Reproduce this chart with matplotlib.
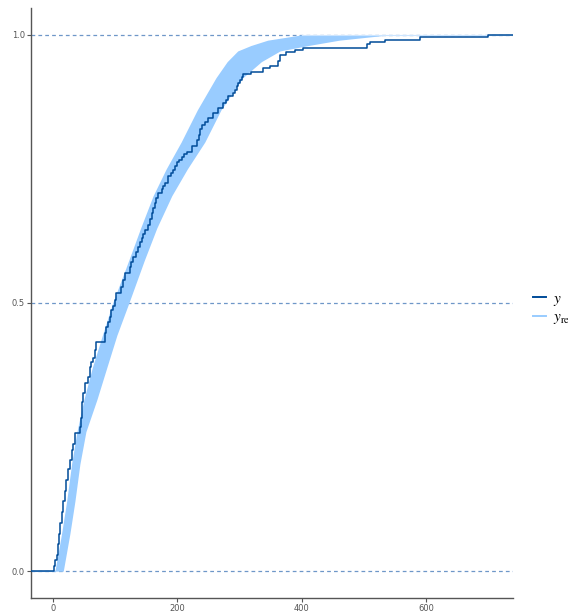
"""ECDF overlay: observed y vs replicated y_rep (matplotlib)."""
import matplotlib
matplotlib.use("Agg")
import matplotlib.pyplot as plt
import numpy as np

plt.rcParams["font.family"] = ["DejaVu Sans"]
plt.rcParams["mathtext.fontset"] = "stix"

# observed ECDF: jump locations and the ECDF value after each jump
obs_x = [1.5, 4, 6, 8, 10, 12, 14, 17, 19, 21, 24, 27, 30, 33, 35, 43, 45, 46,
         47.5, 48.7, 51, 57, 59, 62, 65, 67.5, 70, 83.5, 86, 89, 91.5, 94, 97,
         99.6, 102, 110, 113, 115.7, 123.7, 126, 129, 133, 137, 140, 142.5, 145,
         148, 153, 156, 158.5, 161, 164, 166, 169, 174.6, 177, 180, 185, 189,
         193, 196, 199, 203, 207, 211, 215, 223, 231, 234, 237, 239, 244, 249.5,
         257.5, 265.6, 273.6, 278, 281.6, 289.6, 293, 295, 298, 300, 303, 305.7,
         319, 338, 348.6, 362, 364.7, 375, 388.8, 402, 504, 509, 533, 590, 699]
obs_F = [0.01, 0.02, 0.03, 0.05, 0.07, 0.09, 0.11, 0.13, 0.15, 0.17, 0.19, 0.207,
         0.225, 0.237, 0.257, 0.269, 0.285, 0.30, 0.315, 0.332, 0.35, 0.362, 0.38,
         0.39, 0.397, 0.412, 0.427, 0.444, 0.456, 0.465, 0.474, 0.487, 0.495,
         0.506, 0.518, 0.53, 0.543, 0.556, 0.568, 0.577, 0.586, 0.595, 0.605,
         0.613, 0.621, 0.628, 0.636, 0.645, 0.656, 0.668, 0.677, 0.686, 0.695,
         0.705, 0.712, 0.718, 0.723, 0.736, 0.742, 0.748, 0.756, 0.762, 0.767,
         0.772, 0.778, 0.782, 0.792, 0.804, 0.814, 0.824, 0.832, 0.838, 0.845,
         0.854, 0.863, 0.873, 0.879, 0.885, 0.891, 0.898, 0.904, 0.91, 0.916,
         0.922, 0.927, 0.930, 0.938, 0.941, 0.952, 0.963, 0.968, 0.972, 0.976,
         0.983, 0.987, 0.991, 0.996, 1.0]

# envelope of the replicated ECDFs (left / right edge at each level)
rep_F = [0.0, 0.07, 0.13, 0.2, 0.26, 0.32, 0.38, 0.44, 0.5, 0.58, 0.64, 0.7,
         0.75, 0.8, 0.86, 0.92, 0.95, 0.97, 0.98, 0.99, 1.0]
rep_lo = [3.2, 13.9, 22, 30, 38.6, 49.8, 63.4, 79.5, 96, 122, 141, 161,
          182, 206, 232, 262, 280, 297, 318, 345, 400]
rep_hi = [16.6, 27.3, 35.3, 43.4, 53, 70.7, 86.7, 102.8, 122, 147, 167, 191,
          216, 244, 270, 305, 335, 365, 410, 460, 541]

xlim = (-35.2, 739.2)
dark = "#004c99"
light = "#99ccff"

fig = plt.figure(figsize=(5.68, 6.14), dpi=100)
ax = fig.add_axes([31 / 568, 1 - 598 / 614, 482 / 568, 590 / 614])

for h in (0.0, 0.5, 1.0):
    ax.axhline(h, color="#6e97c8", linewidth=0.9, linestyle=(0, (3, 2.5)), zorder=1)

ax.fill_betweenx(rep_F, rep_lo, rep_hi, color=light, linewidth=0, zorder=2)
ax.plot([rep_lo[0], xlim[0]], [0, 0], color=light, linewidth=0.8, zorder=2)
ax.plot([rep_lo[-1], xlim[1]], [1, 1], color="#cce5ff", linewidth=0.8, zorder=2)

xs = [xlim[0]] + obs_x + [xlim[1]]
fs = [0.0] + obs_F + [obs_F[-1]]
ax.plot(xs, fs, drawstyle="steps-post", color=dark, linewidth=1.1, zorder=3)

ax.set_xlim(*xlim)
ax.set_ylim(-0.05, 1.05)
ax.set_xticks([0, 200, 400, 600])
ax.set_yticks([0.0, 0.5, 1.0])
ax.set_yticklabels(["0.0", "0.5", "1.0"])
for side in ("top", "right"):
    ax.spines[side].set_visible(False)
for side in ("left", "bottom"):
    ax.spines[side].set_color("#555555")
    ax.spines[side].set_linewidth(1.0)
ax.tick_params(labelsize=6, labelcolor="#555555", color="#555555", length=3,
               width=0.8, pad=1.5)

handles = [plt.Line2D([], [], color=dark, linewidth=1.4),
           plt.Line2D([], [], color=light, linewidth=1.4)]
fig.legend(handles, [r"$y$", r"$y_{\mathrm{rep}}$"], loc="center left",
           bbox_to_anchor=(525 / 568, 1 - 309 / 614), frameon=False,
           fontsize=11, handlelength=0.9, handletextpad=0.45, labelspacing=0.1,
           borderpad=0)

fig.savefig("out.png", dpi=100)
